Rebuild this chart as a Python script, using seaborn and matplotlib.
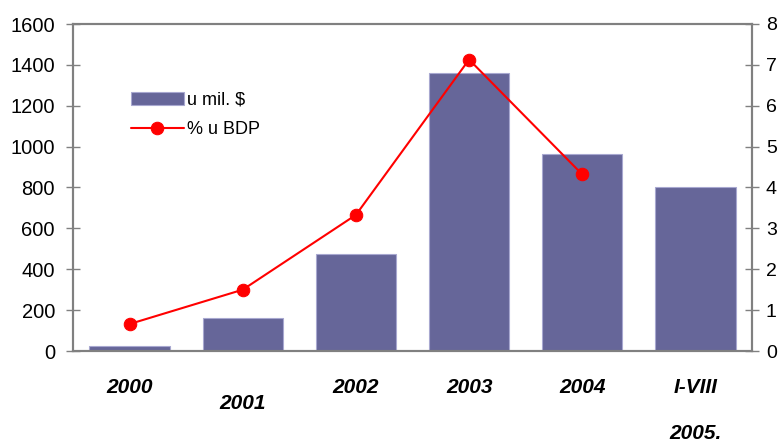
import matplotlib
matplotlib.use("Agg")
import matplotlib.pyplot as plt
import matplotlib.transforms as mtransforms
import seaborn as sns
import pandas as pd
import numpy as np

# ---- data ----
categories = ["2000", "2001", "2002", "2003", "2004", "I-VIII 2005."]
usd_millions = [25, 160, 475, 1360, 965, 800]
pct_gdp = [0.66, 1.5, 3.33, 7.13, 4.32]
left_ticks = [0, 200, 400, 600, 800, 1000, 1200, 1400, 1600]
right_ticks = [0, 1, 2, 3, 4, 5, 6, 7, 8]
xlabel_lines = [["2000"], ["", "2001"], ["2002"], ["2003"], ["2004"], ["I-VIII", "", "2005."]]
legend_labels = ["u mil. $", "% u BDP"]

sns.set_style("white")
plt.rcParams["font.family"] = ["Liberation Sans", "DejaVu Sans"]
plt.rcParams["text.color"] = "black"
plt.rcParams["xtick.color"] = "black"
plt.rcParams["ytick.color"] = "black"

bar_color = "#666699"
line_color = "#FF0000"
spine_color = "#808080"

fig = plt.figure(figsize=(7.8, 4.44), dpi=100)
ax = fig.add_axes([73 / 780, 1 - 351 / 444, (752 - 73) / 780, (351 - 24) / 444])

df_bar = pd.DataFrame({"cat": categories, "val": usd_millions})
sns.barplot(data=df_bar, x="cat", y="val", ax=ax, color=bar_color, saturation=1,
            width=0.71, edgecolor="#a8a8d0", linewidth=0.8, label=legend_labels[0])

ax.set_ylim(0, 1600)
ax.set_yticks(left_ticks)
ax.set_yticklabels([str(v) for v in left_ticks], fontsize=14.5)
ax.set_xlim(-0.5, len(categories) - 0.5)
ax.set_xlabel("")
ax.set_ylabel("")
ax.set_xticks(range(len(categories)))
ax.set_xticklabels([""] * len(categories))
ax.tick_params(axis="x", which="major", length=0)
ax.set_xticks(np.arange(-0.5, len(categories), 1.0), minor=True)
ax.tick_params(axis="x", which="minor", direction="inout", length=10, width=1, color=spine_color)
ax.tick_params(axis="y", direction="inout", length=10, width=1, color=spine_color,
               pad=8, labelcolor="black")

for s in ax.spines.values():
    s.set_color(spine_color)
    s.set_linewidth(1.5)
    s.set_visible(True)

ax2 = ax.twinx()
df_line = pd.DataFrame({"x": list(range(len(pct_gdp))), "y": pct_gdp})
sns.lineplot(data=df_line, x="x", y="y", ax=ax2, color=line_color, linewidth=1.5,
             marker="o", markersize=9, markeredgecolor=line_color, label=legend_labels[1])
ax2.set_ylim(0, 8)
ax2.set_yticks(right_ticks)
ax2.set_yticklabels([str(v) for v in right_ticks], fontsize=14)
ax2.set_xlim(-0.5, len(categories) - 0.5)
ax2.set_xlabel("")
ax2.set_ylabel("")
ax2.tick_params(axis="y", direction="inout", length=10, width=1, color=spine_color,
                pad=5, labelcolor="black")
for s in ax2.spines.values():
    s.set_color(spine_color)
    s.set_linewidth(1.5)

# x category labels
trans = mtransforms.blended_transform_factory(ax.transData, ax.transAxes)
offsets = [-0.113, -0.162, -0.251]
for i, lines in enumerate(xlabel_lines):
    for j, t in enumerate(lines):
        if not t:
            continue
        if len(lines) == 2:
            y = offsets[1]
        elif j == 0:
            y = offsets[0]
        else:
            y = offsets[2]
        ax.text(i, y, t, transform=trans, ha="center", va="center", color="black",
                fontsize=15, fontweight="bold", fontstyle="italic")

# legend
h1, l1 = ax.get_legend_handles_labels()
h2, l2 = ax2.get_legend_handles_labels()
if ax.get_legend():
    ax.get_legend().remove()
if ax2.get_legend():
    ax2.get_legend().remove()
leg = ax2.legend(h1 + h2, l1 + l2, loc="upper left", bbox_to_anchor=(0.075, 0.815),
                 frameon=False, fontsize=13, handlelength=2.9, handletextpad=0.2,
                 labelspacing=0.7, borderaxespad=0)
for t in leg.get_texts():
    t.set_color("black")

fig.savefig("out.png", dpi=100)
